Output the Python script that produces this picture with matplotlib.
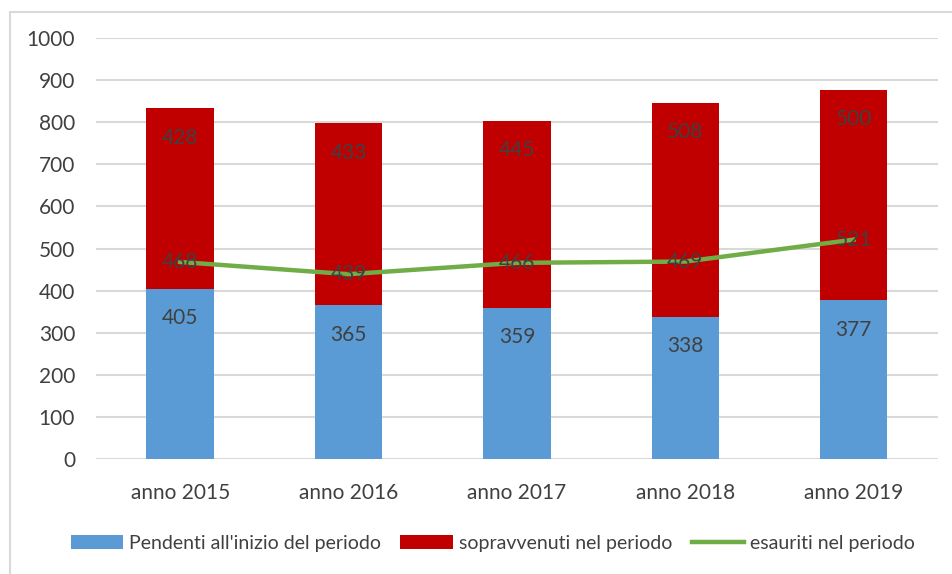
import matplotlib
matplotlib.use("Agg")
import matplotlib.pyplot as plt
from matplotlib.patches import Rectangle
import numpy as np

plt.rcParams["font.family"] = ["Lato", "DejaVu Sans"]

years = ["anno 2015", "anno 2016", "anno 2017", "anno 2018", "anno 2019"]
pendenti = [405, 365, 359, 338, 377]
sopravvenuti = [428, 433, 445, 508, 500]
esauriti = [468, 439, 466, 469, 521]

blue = "#5b9bd5"
red = "#c00000"
green = "#70ad47"
txt = "#404040"
grid = "#d9d9d9"

fig = plt.figure(figsize=(9.53, 5.74), dpi=100)
ax = fig.add_axes([0.1007, 0.2003, 0.8833, 0.7335])

x = np.arange(len(years))
b1 = ax.bar(x, pendenti, width=0.4, color=blue, label="Pendenti all'inizio del periodo", zorder=2)
b2 = ax.bar(x, sopravvenuti, width=0.4, bottom=pendenti, color=red,
            label="sopravvenuti nel periodo", zorder=2)
ln, = ax.plot(x, esauriti, color=green, linewidth=3.2, label="esauriti nel periodo", zorder=3)

# data labels, inside end of each segment
for i in range(len(x)):
    ax.text(x[i], pendenti[i] - 70, str(pendenti[i]), ha="center", va="center",
            fontsize=15, color=txt, zorder=4)
    ax.text(x[i], pendenti[i] + sopravvenuti[i] - 70, str(sopravvenuti[i]), ha="center",
            va="center", fontsize=15, color=txt, zorder=4)
    ax.text(x[i], esauriti[i], str(esauriti[i]), ha="center", va="center",
            fontsize=15, color=txt, zorder=4)

ax.set_xlim(-0.5, len(x) - 0.5)
ax.set_ylim(0, 1000)
ax.set_yticks(range(0, 1001, 100))
ax.set_xticks(x)
ax.set_xticklabels(years)
ax.tick_params(axis="both", length=0, labelsize=15, colors=txt)
ax.tick_params(axis="y", pad=15)
ax.tick_params(axis="x", pad=17)
ax.yaxis.grid(True, color=grid, linewidth=1.5, zorder=0)
ax.set_axisbelow(True)
for s in ax.spines.values():
    s.set_visible(False)

leg = fig.legend(handles=[b1, b2, ln], loc="center", bbox_to_anchor=(0.517, 1 - 543 / 574),
                 ncol=3, frameon=False, fontsize=14, handlelength=2.7, handleheight=0.75,
                 columnspacing=1.0, handletextpad=0.3, labelcolor=txt)

fig.patches.append(Rectangle((10 / 953, -0.1), 1.2, 1.1 - 12 / 574, transform=fig.transFigure,
                             fill=False, edgecolor=grid, linewidth=1.5))

fig.savefig("out.png", dpi=100)
